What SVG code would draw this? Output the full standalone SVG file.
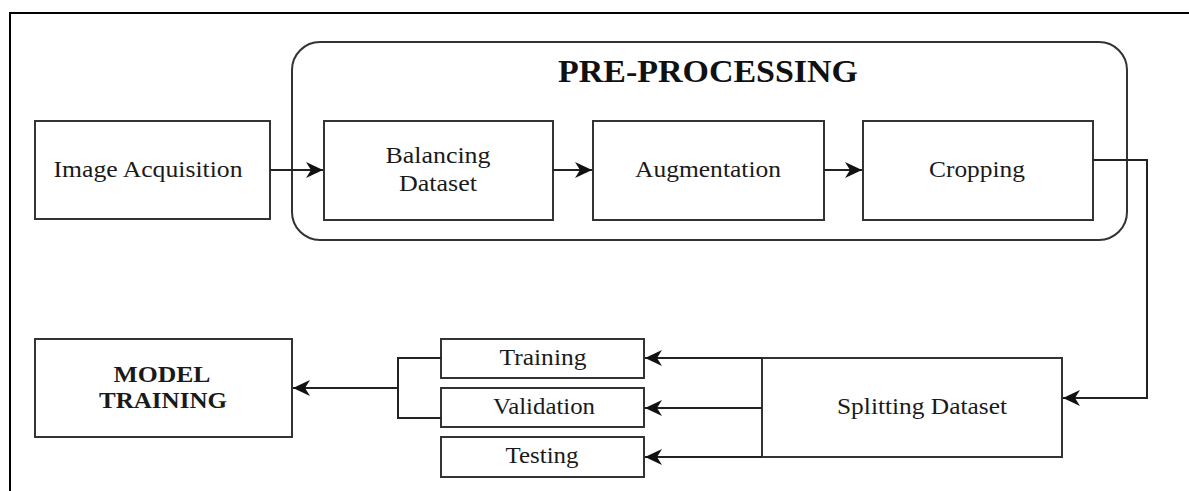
<svg xmlns="http://www.w3.org/2000/svg" width="1189" height="491" viewBox="0 0 1189 491">
  <style>
    .box { fill: #ffffff; stroke: #333333; stroke-width: 2; }
    .group { fill: none; stroke: #333333; stroke-width: 2; }
    .frame { fill: none; stroke: #000000; stroke-width: 2; }
    .lbl { font-family: "Liberation Serif", "Times New Roman", serif; font-size: 23px; fill: #1a1a1a; text-anchor: middle; }
    .bold { font-weight: bold; }
    .title { font-family: "Liberation Serif", "Times New Roman", serif; font-size: 31px; font-weight: bold; fill: #111111; text-anchor: middle; }
    .edge { fill: none; stroke: #222222; stroke-width: 2; }
  </style>
  <defs>
    <marker id="arrow" markerUnits="userSpaceOnUse" markerWidth="20" markerHeight="18" viewBox="-18 -9 20 18" refX="0" refY="0" orient="auto">
      <path d="M0,0 L-17,-8 L-12,0 L-17,8 Z" fill="#111111"/>
    </marker>
  </defs>

  <rect width="1189" height="491" fill="#ffffff"/>

  <!-- page frame: top and left edges -->
  <path class="frame" d="M10,491 V13 H1189"/>

  <!-- pre-processing container -->
  <g id="preprocessing">
    <rect class="group" x="292" y="42" width="835" height="198" rx="28" ry="28"/>
    <text class="title" x="708" y="82" textLength="300" lengthAdjust="spacingAndGlyphs">PRE-PROCESSING</text>
  </g>

  <g id="image-acquisition">
    <rect class="box" x="35" y="121" width="235" height="98"/>
    <text class="lbl" x="148" y="177" textLength="189" lengthAdjust="spacingAndGlyphs">Image Acquisition</text>
  </g>

  <g id="balancing-dataset">
    <rect class="box" x="324" y="121" width="229" height="99"/>
    <text class="lbl" x="438" y="163" textLength="105" lengthAdjust="spacingAndGlyphs">Balancing</text>
    <text class="lbl" x="438" y="191" textLength="78" lengthAdjust="spacingAndGlyphs">Dataset</text>
  </g>

  <g id="augmentation">
    <rect class="box" x="593" y="121" width="231" height="99"/>
    <text class="lbl" x="708" y="177" textLength="146" lengthAdjust="spacingAndGlyphs">Augmentation</text>
  </g>

  <g id="cropping">
    <rect class="box" x="863" y="121" width="230" height="99"/>
    <text class="lbl" x="977" y="177" textLength="96" lengthAdjust="spacingAndGlyphs">Cropping</text>
  </g>

  <g id="splitting-dataset">
    <rect class="box" x="762" y="358" width="300" height="99"/>
    <text class="lbl" x="922" y="414" textLength="170" lengthAdjust="spacingAndGlyphs">Splitting Dataset</text>
  </g>

  <g id="training">
    <rect class="box" x="441" y="339" width="203" height="39"/>
    <text class="lbl" x="543" y="365" textLength="87" lengthAdjust="spacingAndGlyphs">Training</text>
  </g>

  <g id="validation">
    <rect class="box" x="441" y="388" width="203" height="39"/>
    <text class="lbl" x="544" y="414" textLength="102" lengthAdjust="spacingAndGlyphs">Validation</text>
  </g>

  <g id="testing">
    <rect class="box" x="441" y="437" width="203" height="40"/>
    <text class="lbl" x="542" y="463" textLength="73" lengthAdjust="spacingAndGlyphs">Testing</text>
  </g>

  <g id="model-training">
    <rect class="box" x="35" y="339" width="257" height="98"/>
    <text class="lbl bold" x="162" y="382" textLength="97" lengthAdjust="spacingAndGlyphs">MODEL</text>
    <text class="lbl bold" x="163" y="408" textLength="128" lengthAdjust="spacingAndGlyphs">TRAINING</text>
  </g>

  <!-- connectors -->
  <g id="connectors">
    <path class="edge" d="M270,170 H323" marker-end="url(#arrow)"/>
    <path class="edge" d="M553,170 H592" marker-end="url(#arrow)"/>
    <path class="edge" d="M824,170 H862" marker-end="url(#arrow)"/>
    <path class="edge" d="M1093,160 H1147 V398 H1063" marker-end="url(#arrow)"/>
    <path class="edge" d="M762,358 H645" marker-end="url(#arrow)"/>
    <path class="edge" d="M762,408 H645" marker-end="url(#arrow)"/>
    <path class="edge" d="M762,457 H645" marker-end="url(#arrow)"/>
    <path class="edge" d="M441,358 H398 V418 H441"/>
    <path class="edge" d="M398,388 H293" marker-end="url(#arrow)"/>
  </g>
</svg>
